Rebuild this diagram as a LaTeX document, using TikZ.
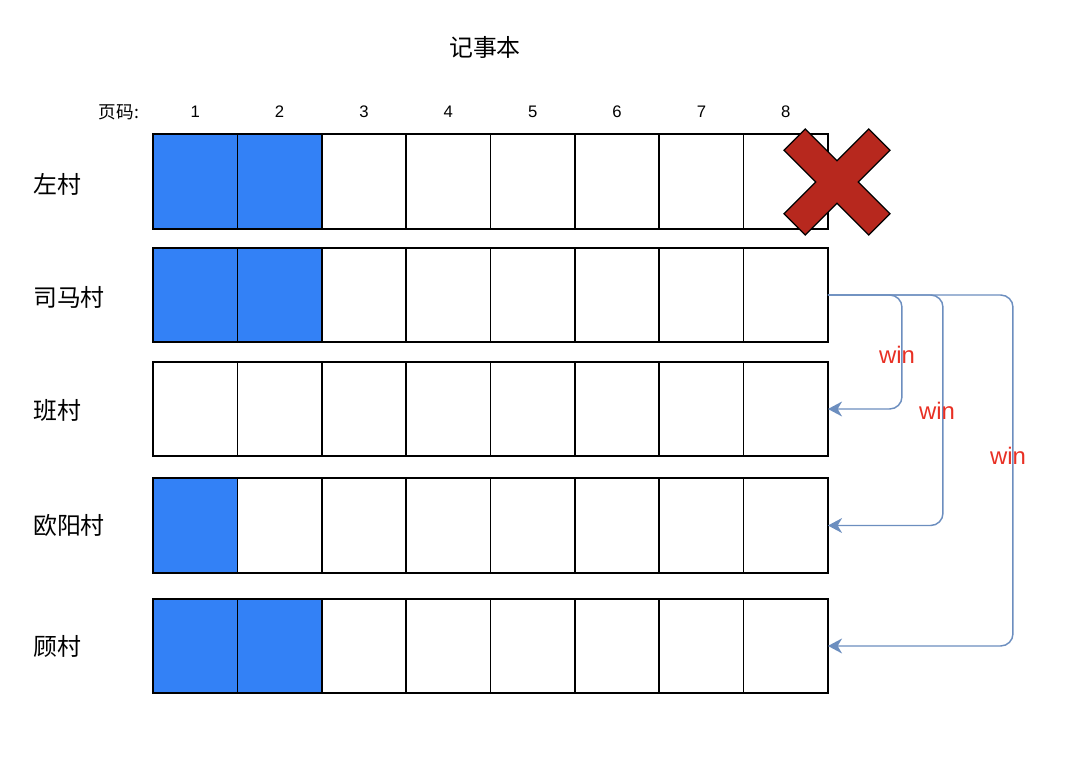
\documentclass[tikz,border=0pt]{standalone}
\usepackage{fontspec}
\setmainfont{Liberation Sans}
\newfontfamily\cjk{Noto Sans CJK SC}
\usetikzlibrary{arrows.meta}
\definecolor{cellblue}{RGB}{51,129,246}
\definecolor{linkblue}{RGB}{108,142,191}
\definecolor{winred}{RGB}{232,48,36}
\definecolor{crossred}{RGB}{183,40,30}

\begin{document}
\begin{tikzpicture}[x=0.02cm,y=0.02cm,
          cell/.style={draw,line width=0.9pt,minimum width=1.6875cm,
                       minimum height=1.89cm,inner sep=0pt,outer sep=0pt},
          rowlab/.style={anchor=west,font=\fontsize{13.6}{16}\selectfont\cjk},
          num/.style={font=\fontsize{9.5}{11}\selectfont},
          link/.style={draw=linkblue,line width=0.85pt,rounded corners=7pt,
                       -{Stealth[length=8pt,width=8.5pt,inset=2.5pt]}},
          win/.style={text=winred,font=\fontsize{13.6}{16}\selectfont}]
        \useasboundingbox (0,0) rectangle (1080,782);
        \node[font=\fontsize{13.6}{16}\selectfont\cjk](title) at (485,735) {记事本};
        \node[num,font=\fontsize{10}{12}\selectfont\cjk](page) at (119,670) {页码:};
        \foreach \c in {1,...,8}
          \node[num](n\c) at ({153+84.375*(\c-0.5)},670) {\c};
        \foreach \r/\y/\n in {1/600.5/2,2/487/2,3/373/0,4/256.5/1,5/136/2}{
          \foreach \c in {1,...,8}{
            \ifnum\c>\n \def\fc{white}\else\def\fc{cellblue}\fi
            \node[cell,fill=\fc](r\r c\c) at ({153+84.375*(\c-0.5)},\y) {};
          }
        }
        \node[rowlab](l1) at (27,598) {左村};
        \node[rowlab](l2) at (27,485) {司马村};
        \node[rowlab](l3) at (27,372) {班村};
        \node[rowlab](l4) at (27,257) {欧阳村};
        \node[rowlab](l5) at (27,136) {顾村};
        \begin{scope}[shift={(837,600)},rotate=45]
          \draw[fill=crossred,line width=0.7pt]
            (15,60)--(15,15)--(60,15)--(60,-15)--(15,-15)--(15,-60)
            --(-15,-60)--(-15,-15)--(-60,-15)--(-60,15)--(-15,15)--(-15,60)--cycle;
        \end{scope}
        \draw[link](r2c8.east)--++(74,0)|-(r3c8.east);
        \draw[link](r2c8.east)--++(115,0)|-(r4c8.east);
        \draw[link](r2c8.east)--++(185,0)|-(r5c8.east);
        \node[win](w1) at (897,427) {win};
        \node[win](w2) at (937,371) {win};
        \node[win](w3) at (1008,326) {win};
      \end{tikzpicture}
\end{document}
